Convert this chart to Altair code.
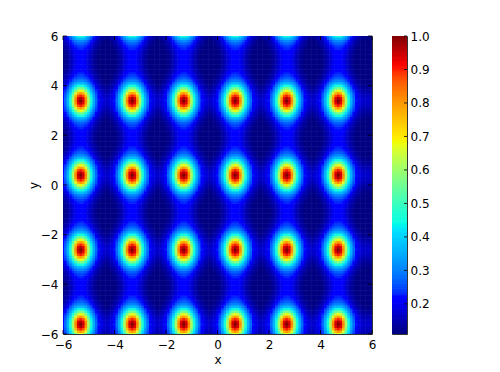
import altair as alt
import pandas as pd

# Peak profile: rows = |dy| 0..1.5, columns = |dx| 0..1 (steps of 0.1)
PEAK_TABLE = [
    [1.00, .95, .82, .62, .47, .36, .28, .225, .195, .18, .17],
    [.97, .93, .80, .61, .46, .355, .275, .22, .19, .175, .165],
    [.90, .87, .75, .58, .44, .34, .265, .215, .185, .17, .16],
    [.80, .77, .66, .53, .41, .32, .25, .205, .178, .16, .15],
    [.68, .65, .57, .47, .37, .29, .235, .195, .165, .15, .14],
    [.57, .55, .49, .41, .33, .265, .215, .18, .155, .14, .13],
    [.46, .45, .41, .35, .29, .24, .195, .165, .145, .13, .122],
    [.37, .365, .34, .30, .255, .21, .175, .15, .135, .122, .116],
    [.31, .305, .285, .255, .225, .19, .16, .14, .125, .116, .112],
    [.27, .265, .25, .23, .20, .17, .148, .13, .118, .112, .11],
    [.245, .24, .23, .21, .185, .16, .14, .123, .114, .11, .11],
    [.23, .228, .218, .198, .172, .15, .132, .118, .11, .11, .11],
    [.222, .218, .206, .186, .163, .143, .126, .114, .11, .11, .11],
    [.218, .213, .20, .18, .158, .138, .122, .112, .11, .11, .11],
    [.215, .21, .196, .176, .154, .135, .12, .11, .11, .11, .11],
    [.214, .208, .194, .174, .152, .133, .118, .11, .11, .11, .11],
]
PEAK_XS = [-5.3, -3.3, -1.3, 0.7, 2.7, 4.7]
PEAK_YS = [-5.6, -2.6, 0.4, 3.4, 6.6]
AXIS_TICKS = [-6, -4, -2, 0, 2, 4, 6]
BAR_TICKS = [0.2, 0.3, 0.4, 0.5, 0.6, 0.7, 0.8, 0.9, 1.0]
VMIN, VMAX = 0.11, 1.0
JET_POS = [0, 0.11, 0.125, 0.34, 0.35, 0.375, 0.64, 0.65, 0.66, 0.89, 0.91, 1.0]
JET_COL = ["#000080", "#0000ff", "#0000ff", "#00dbff", "#00e5fb", "#14ffe2", "#eeff08", "#f7f500", "#ffec00", "#ff1300", "#f30000", "#800000"]

FONT = "DejaVu Sans"
color_scale = alt.Scale(
    domain=[VMIN + p * (VMAX - VMIN) for p in JET_POS], range=JET_COL, clamp=True
)


def lookup(x, y):
    dx = min(abs(x - p) for p in PEAK_XS)
    dy = min(abs(y - p) for p in PEAK_YS)
    return PEAK_TABLE[min(round(dy * 10), 15)][min(round(dx * 10), 10)]


rows = []
for i in range(121):
    x = round(-6 + 0.1 * i, 1)
    for j in range(121):
        y = round(-6 + 0.1 * j, 1)
        rows.append(
            dict(x0=x - 0.06, x1=x + 0.06, y0=y - 0.06, y1=y + 0.06, v=lookup(x, y))
        )
cells = pd.DataFrame(rows)

W, H = 309, 298
xs = alt.Scale(domain=[-6, 6], nice=False, zero=False)
ys = alt.Scale(domain=[-6, 6], nice=False, zero=False)
ticks_df = pd.DataFrame({"t": AXIS_TICKS})

x_axis = alt.Axis(values=AXIS_TICKS, tickSize=0, domain=False, grid=False, labelPadding=5,
                  titlePadding=4, labelFlush=False, title="x")
y_axis = alt.Axis(values=AXIS_TICKS, tickSize=0, domain=False, grid=False, labelPadding=5,
                  titlePadding=0, labelFlush=False, title="y")

heat = (
    alt.Chart(cells)
    .mark_rect(clip=True)
    .encode(
        x=alt.X("x0:Q", scale=xs, axis=x_axis),
        x2="x1:Q",
        y=alt.Y("y0:Q", scale=ys, axis=y_axis),
        y2="y1:Q",
        color=alt.Color("v:Q", scale=color_scale, legend=None),
    )
)

tick_c = "#000000"
xb = alt.Chart(ticks_df).mark_rule(color=tick_c, strokeWidth=0.8).encode(
    x=alt.X("t:Q", scale=xs, axis=x_axis), y=alt.value(H - 4), y2=alt.value(H))
xt = alt.Chart(ticks_df).mark_rule(color=tick_c, strokeWidth=0.8).encode(
    x=alt.X("t:Q", scale=xs, axis=x_axis), y=alt.value(0), y2=alt.value(4))
yl = alt.Chart(ticks_df).mark_rule(color=tick_c, strokeWidth=0.8).encode(
    y=alt.Y("t:Q", scale=ys, axis=y_axis), x=alt.value(0), x2=alt.value(4))
yr = alt.Chart(ticks_df).mark_rule(color=tick_c, strokeWidth=0.8).encode(
    y=alt.Y("t:Q", scale=ys, axis=y_axis), x=alt.value(W - 4), x2=alt.value(W))

main = alt.layer(heat, xb, xt, yl, yr).properties(width=W, height=H)

n = 178
bar = pd.DataFrame(
    {
        "a": [VMIN + (VMAX - VMIN) * k / n for k in range(n)],
        "b": [VMIN + (VMAX - VMIN) * (k + 1.4) / n for k in range(n)],
    }
)
bar["v"] = bar.a + (VMAX - VMIN) * 0.5 / n
bs = alt.Scale(domain=[VMIN, VMAX], nice=False, zero=False)
BW = 15
bar_axis = alt.Axis(orient="right", values=BAR_TICKS, format=".1f", tickSize=0, domain=False,
                    grid=False, labelPadding=3, labelOverlap=False, labelFlush=False, title=None)
bar_rect = (
    alt.Chart(bar)
    .mark_rect(clip=True)
    .encode(
        x=alt.value(0),
        x2=alt.value(BW),
        y=alt.Y("a:Q", scale=bs, axis=bar_axis),
        y2="b:Q",
        color=alt.Color("v:Q", scale=color_scale, legend=None),
    )
)
bar_ticks = alt.Chart(pd.DataFrame({"t": BAR_TICKS})).mark_rule(color=tick_c, strokeWidth=0.8).encode(
    y=alt.Y("t:Q", scale=bs, axis=bar_axis), x=alt.value(BW - 3), x2=alt.value(BW))
colorbar = alt.layer(bar_rect, bar_ticks).properties(width=BW, height=H)

chart = (
    alt.hconcat(main, colorbar, spacing=20, bounds="flush")
    .properties(padding={"left": 18, "top": 21, "right": 0, "bottom": 0})
    .configure_view(stroke="#333333", strokeWidth=1)
    .configure_axis(labelFont=FONT, titleFont=FONT, labelFontSize=12, titleFontSize=12,
                    titleFontWeight="normal", labelColor="#000000", titleColor="#000000")
)
chart.save("out.html", embed_options={"renderer": "svg", "actions": False})
